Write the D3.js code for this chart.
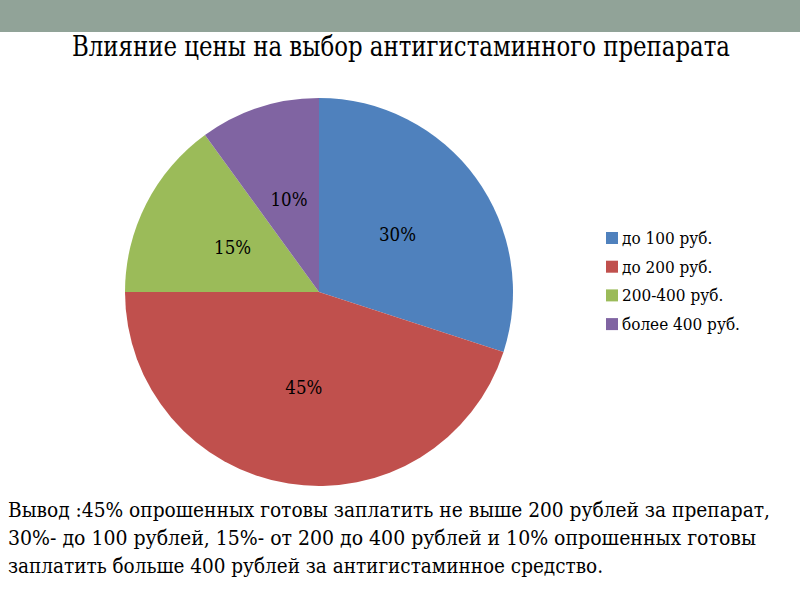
<!DOCTYPE html>
<html>
<head>
<meta charset="utf-8">
<script src="https://cdn.jsdelivr.net/npm/d3@7"></script>
<style>
  body { margin: 0; background: #fff; }
</style>
</head>
<body>
<div id="chart"></div>
<script>
// Data
var categories = ['до 100 руб.', 'до 200 руб.', '200-400 руб.', 'более 400 руб.'];
var values     = [30, 45, 15, 10];
var colors     = ['#4F81BD', '#C0504D', '#9BBB59', '#8064A2'];
var title      = 'Влияние цены на выбор антигистаминного препарата';
var notes      = [
    'Вывод :45% опрошенных готовы заплатить не выше 200 рублей за препарат,',
    '30%- до 100 рублей, 15%- от 200 до 400 рублей и 10% опрошенных готовы',
    'заплатить больше 400 рублей за антигистаминное средство.'
];
var notes_width = [762, 748, 595];

var chart_width  = 800;
var chart_height = 600;
var radius = 194;
var cx = 319, cy = 292;
var serif = "'DejaVu Serif Condensed', 'DejaVu Serif', serif";

var svg = d3.select('#chart')
    .append('svg')
    .attr('width', chart_width)
    .attr('height', chart_height)
    .style('font-family', serif);

// top band
svg.append('rect')
    .attr('x', 0).attr('y', 0)
    .attr('width', chart_width).attr('height', 32)
    .attr('fill', '#91A398');

svg.append('text')
    .attr('x', 72).attr('y', 56)
    .attr('font-family', serif)
    .attr('font-size', 28)
    .attr('textLength', 658)
    .attr('lengthAdjust', 'spacingAndGlyphs')
    .attr('fill', '#000')
    .text(title);

var color = d3.scaleOrdinal().domain(categories).range(colors);

var pie = d3.pie().sort(null).value(function(d){ return d.value; });
var arc = d3.arc().innerRadius(0).outerRadius(radius);

var data = categories.map(function(c, i){ return { name: c, value: values[i] }; });
var total = d3.sum(values);

var g = svg.append('g').attr('transform', 'translate(' + cx + ',' + cy + ')');

g.selectAll('path')
    .data(pie(data))
    .enter()
    .append('path')
    .attr('d', arc)
    .attr('fill', function(d){ return color(d.data.name); });

g.selectAll('text.lbl')
    .data(pie(data))
    .enter()
    .append('text')
    .attr('class', 'lbl')
    .attr('transform', function(d){ return 'translate(' + arc.centroid(d) + ')'; })
    .attr('text-anchor', 'middle')
    .attr('dy', '0.35em')
    .attr('font-family', serif)
    .attr('font-size', 18)
    .attr('textLength', 37)
    .attr('lengthAdjust', 'spacingAndGlyphs')
    .attr('fill', '#000')
    .text(function(d){ return Math.round(d.data.value / total * 100) + '%'; });

// legend
var legend = svg.append('g').attr('transform', 'translate(606,238)');
var item = legend.selectAll('g')
    .data(categories)
    .enter()
    .append('g')
    .attr('transform', function(d, i){ return 'translate(0,' + (i * 28.7) + ')'; });

item.append('rect')
    .attr('x', 0).attr('y', -6)
    .attr('width', 12).attr('height', 12)
    .attr('fill', function(d){ return color(d); });

item.append('text')
    .attr('x', 16).attr('y', 0)
    .attr('dy', '0.35em')
    .attr('font-family', serif)
    .attr('font-size', 17)
    .attr('fill', '#000')
    .text(function(d){ return d; });

// conclusion text
svg.selectAll('text.note')
    .data(notes)
    .enter()
    .append('text')
    .attr('class', 'note')
    .attr('x', 8)
    .attr('y', function(d, i){ return 517 + i * 28; })
    .attr('font-family', serif)
    .attr('font-size', 20)
    .attr('textLength', function(d, i){ return notes_width[i]; })
    .attr('lengthAdjust', 'spacingAndGlyphs')
    .attr('fill', '#000')
    .text(function(d){ return d; });
</script>
</body>
</html>
